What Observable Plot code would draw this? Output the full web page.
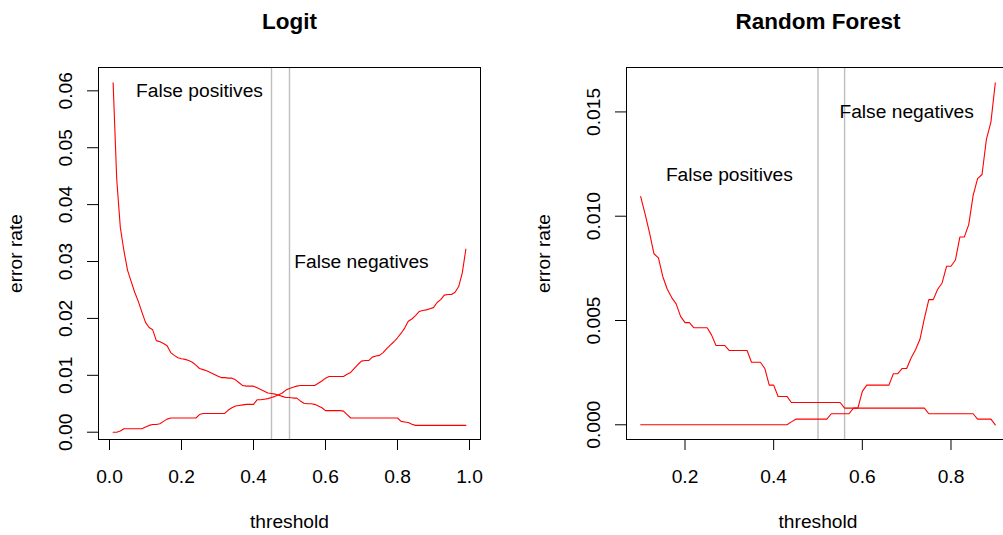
<!DOCTYPE html>
<html>
<head>
<meta charset="utf-8">
<script src="https://cdn.jsdelivr.net/npm/d3@7"></script>
<script src="https://cdn.jsdelivr.net/npm/@observablehq/plot@0.6"></script>
<style>
  html, body { margin: 0; padding: 0; background: #fff; }
  #page { position: relative; width: 1003px; height: 535px; overflow: hidden; background: #fff; }
  #page svg { position: absolute; top: 0; }
</style>
</head>
<body>
<div id="page"></div>
<script>
// ---- Logit: error rates by classification threshold ----
const logitThreshold = [
  0.01,0.02,0.03,0.04,0.05,0.06,0.07,0.08,0.09,0.10,
  0.11,0.12,0.13,0.14,0.15,0.16,0.17,0.18,0.19,0.20,
  0.21,0.22,0.23,0.24,0.25,0.26,0.27,0.28,0.29,0.30,
  0.31,0.32,0.33,0.34,0.35,0.36,0.37,0.38,0.39,0.40,
  0.41,0.42,0.43,0.44,0.45,0.46,0.47,0.48,0.49,0.50,
  0.51,0.52,0.53,0.54,0.55,0.56,0.57,0.58,0.59,0.60,
  0.61,0.62,0.63,0.64,0.65,0.66,0.67,0.68,0.69,0.70,
  0.71,0.72,0.73,0.74,0.75,0.76,0.77,0.78,0.79,0.80,
  0.81,0.82,0.83,0.84,0.85,0.86,0.87,0.88,0.89,0.90,
  0.91,0.92,0.93,0.94,0.95,0.96,0.97,0.98,0.99
];
const logitFalsePos = [
  0.0614,0.0445,0.0360,0.0319,0.0285,0.0265,0.0246,0.0230,0.0211,0.0193,
  0.0184,0.0180,0.0161,0.0159,0.0156,0.0152,0.0140,0.0135,0.0131,0.0129,
  0.0128,0.0126,0.0123,0.0118,0.0112,0.0110,0.0108,0.0105,0.0102,0.0099,
  0.0096,0.0096,0.0095,0.0095,0.0092,0.0087,0.0082,0.0081,0.0081,0.0081,
  0.0078,0.0075,0.0072,0.0069,0.0068,0.0067,0.0065,0.0063,0.0061,0.0061,
  0.0060,0.0060,0.0055,0.0051,0.0050,0.0050,0.0049,0.0046,0.0043,0.0038,
  0.0038,0.0038,0.0038,0.0038,0.0037,0.0031,0.0025,0.0025,0.0025,0.0025,
  0.0025,0.0025,0.0025,0.0025,0.0025,0.0025,0.0025,0.0025,0.0025,0.0025,
  0.0019,0.0018,0.0017,0.0014,0.0012,0.0012,0.0012,0.0012,0.0012,0.0012,
  0.0012,0.0012,0.0012,0.0012,0.0012,0.0012,0.0012,0.0012,0.0012
];
const logitFalseNeg = [
  0.0000,0.0000,0.0002,0.0006,0.0006,0.0006,0.0006,0.0006,0.0006,0.0009,
  0.0012,0.00135,0.00135,0.0015,0.0019,0.0023,0.0025,0.0025,0.0025,0.0025,
  0.0025,0.0025,0.0025,0.0025,0.0031,0.0033,0.0033,0.0033,0.0033,0.0033,
  0.0033,0.0033,0.0039,0.0043,0.0046,0.0047,0.0048,0.0049,0.0049,0.0049,
  0.0057,0.0057,0.0058,0.0059,0.0061,0.0063,0.0066,0.0069,0.0074,0.0077,
  0.0079,0.0081,0.0082,0.0082,0.0082,0.0082,0.0082,0.0086,0.0090,0.0095,
  0.0098,0.0098,0.0098,0.0098,0.0098,0.0102,0.0105,0.0112,0.0119,0.0125,
  0.0126,0.0126,0.0132,0.0134,0.0135,0.0140,0.0147,0.0153,0.0159,0.0166,
  0.0174,0.0183,0.0195,0.0199,0.0205,0.0212,0.0214,0.0215,0.0217,0.0219,
  0.0228,0.0233,0.0241,0.0242,0.0242,0.0246,0.0256,0.0280,0.0322
];
const logitCutoffs = [0.45, 0.5];
const logitXTicks = [0, 0.2, 0.4, 0.6, 0.8, 1.0];
const logitYTicks = [0, 0.01, 0.02, 0.03, 0.04, 0.05, 0.06];

// ---- Random forest: error rates by classification threshold ----
const forestThreshold = [
  0.10,0.11,0.12,0.13,0.14,0.15,0.16,0.17,0.18,0.19,
  0.20,0.21,0.22,0.23,0.24,0.25,0.26,0.27,0.28,0.29,
  0.30,0.31,0.32,0.33,0.34,0.35,0.36,0.37,0.38,0.39,
  0.40,0.41,0.42,0.43,0.44,0.45,0.46,0.47,0.48,0.49,
  0.50,0.51,0.52,0.53,0.54,0.55,0.56,0.57,0.58,0.59,
  0.60,0.61,0.62,0.63,0.64,0.65,0.66,0.67,0.68,0.69,
  0.70,0.71,0.72,0.73,0.74,0.75,0.76,0.77,0.78,0.79,
  0.80,0.81,0.82,0.83,0.84,0.85,0.86,0.87,0.88,0.89,
  0.90
];
const forestFalsePos = [
  0.01094,0.0101,0.0092,0.0082,0.0080,0.0071,0.0065,0.0061,0.0058,0.0052,
  0.0049,0.0049,0.00465,0.00465,0.00465,0.00465,0.0043,0.0038,0.0038,0.0038,
  0.00356,0.00356,0.00356,0.00356,0.00356,0.0030,0.0030,0.0030,0.0027,0.0019,
  0.0019,0.00136,0.00136,0.00136,0.00107,0.00107,0.00107,0.00107,0.00107,0.00107,
  0.00107,0.00107,0.00107,0.00107,0.00107,0.00107,0.0008,0.0008,0.0008,0.0008,
  0.0008,0.0008,0.0008,0.0008,0.0008,0.0008,0.0008,0.0008,0.0008,0.0008,
  0.0008,0.0008,0.0008,0.0008,0.0008,0.00053,0.00053,0.00053,0.00053,0.00053,
  0.00053,0.00053,0.00053,0.00053,0.00053,0.00053,0.00027,0.00027,0.00027,0.00027,
  0
];
const forestFalseNeg = [
  0,0,0,0,0,0,0,0,0,0,
  0,0,0,0,0,0,0,0,0,0,
  0,0,0,0,0,0,0,0,0,0,
  0,0,0,0,0.00014,0.00027,0.00027,0.00027,0.00027,0.00027,
  0.00027,0.00027,0.00027,0.00053,0.00053,0.00053,0.00053,0.00053,0.0008,0.0008,
  0.0016,0.0019,0.0019,0.0019,0.0019,0.0019,0.0019,0.00245,0.00245,0.0027,
  0.0027,0.0032,0.0036,0.0041,0.0051,0.0060,0.0060,0.0065,0.0068,0.0076,
  0.0076,0.0079,0.0090,0.0090,0.0096,0.0110,0.0118,0.0120,0.0137,0.0145,
  0.0164
];
const forestCutoffs = [0.5, 0.56];
const forestXTicks = [0.2, 0.4, 0.6, 0.8];
const forestYTicks = [0, 0.005, 0.010, 0.015];

const FONT = "'Liberation Sans', Arial, Helvetica, sans-serif";
const TEXT_SIZE = 19.2;

function errorPanel(cfg) {
  const rows = cfg.threshold.map((t, i) => ({t, fp: cfg.fp[i], fn: cfg.fn[i]}));
  return Plot.plot({
    width: cfg.width,
    height: 535,
    marginLeft: cfg.marginLeft,
    marginRight: cfg.marginRight,
    marginTop: 67,
    marginBottom: 96,
    x: {domain: cfg.xDomain},
    y: {domain: cfg.yDomain},
    style: {fontFamily: FONT, fontSize: TEXT_SIZE + "px", color: "black", background: "white", overflow: "visible"},
    marks: [
      Plot.ruleX(cfg.cutoffs, {stroke: "#bebebe", strokeWidth: 1.4}),
      Plot.line(rows, {x: "t", y: "fp", stroke: "red", strokeWidth: 1.1}),
      Plot.line(rows, {x: "t", y: "fn", stroke: "red", strokeWidth: 1.1}),
      Plot.text(cfg.notes, {x: "x", y: "y", text: "label", fill: "black", fontSize: TEXT_SIZE}),
      Plot.axisX({
        ticks: cfg.xTicks, tickFormat: d3.format(".1f"), tickSize: 11, tickPadding: 18.5,
        label: "threshold", labelAnchor: "center", labelOffset: 88, labelArrow: "none"
      }),
      Plot.axisY({
        ticks: cfg.yTicks, tickFormat: d3.format(cfg.yFormat), tickSize: 11, tickPadding: 16, tickRotate: -90,
        label: "error rate", labelAnchor: "center", labelOffset: 90, labelArrow: "none"
      }),
      Plot.frame({stroke: "black", strokeWidth: 1}),
      Plot.text([cfg.title], {frameAnchor: "top", lineAnchor: "middle", dy: -46, fontWeight: "bold", fontSize: 22.5})
    ]
  });
}

const logitPanel = errorPanel({
  title: "Logit",
  threshold: logitThreshold, fp: logitFalsePos, fn: logitFalseNeg,
  cutoffs: logitCutoffs,
  width: 501, marginLeft: 98, marginRight: 21,
  xDomain: [-0.0306, 1.0306], yDomain: [-0.00128, 0.0641],
  xTicks: logitXTicks, yTicks: logitYTicks, yFormat: ".2f",
  notes: [
    {x: 0.25, y: 0.060, label: "False positives"},
    {x: 0.70, y: 0.030, label: "False negatives"}
  ]
});

const forestPanel = errorPanel({
  title: "Random Forest",
  threshold: forestThreshold, fp: forestFalsePos, fn: forestFalseNeg,
  cutoffs: forestCutoffs,
  width: 528, marginLeft: 125, marginRight: 20,
  xDomain: [0.068, 0.932], yDomain: [-0.000705, 0.01713],
  xTicks: forestXTicks, yTicks: forestYTicks, yFormat: ".3f",
  notes: [
    {x: 0.30, y: 0.012, label: "False positives"},
    {x: 0.70, y: 0.015, label: "False negatives"}
  ]
});

const page = document.getElementById("page");
logitPanel.style.left = "0px";
forestPanel.style.left = "501px";
page.append(logitPanel, forestPanel);
</script>
</body>
</html>
